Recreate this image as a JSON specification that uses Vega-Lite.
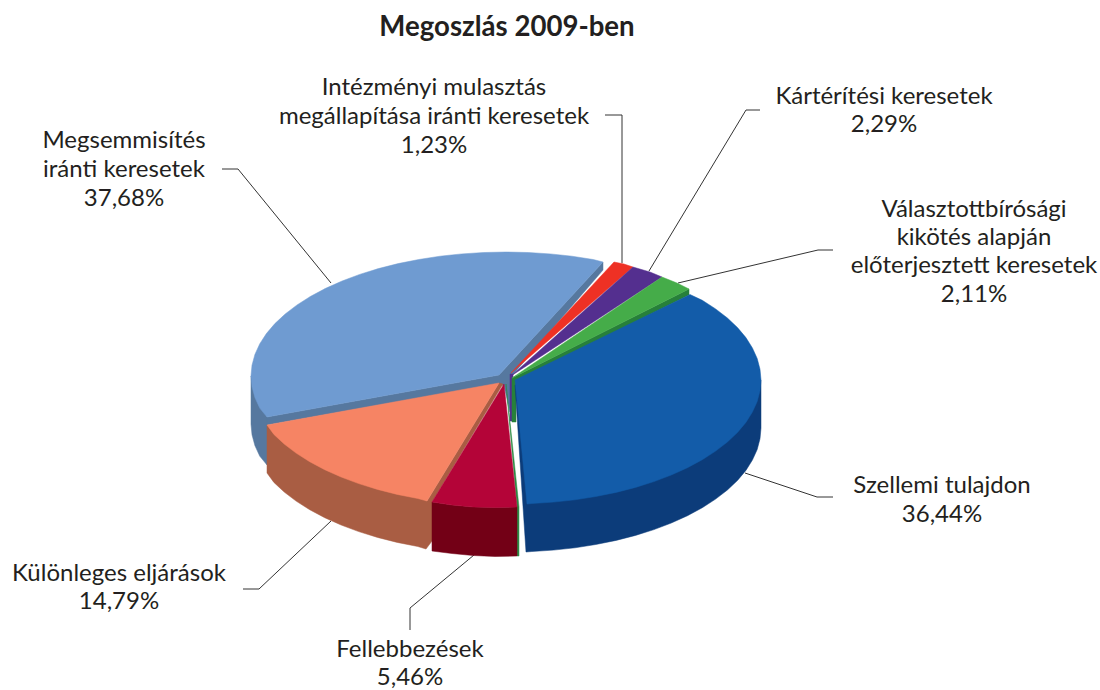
{"$schema":"https://vega.github.io/schema/vega-lite/v6.json","width":1100,"height":690,"autosize":{"type":"none"},"padding":0,"background":"white","view":{"stroke":null},
"datasets":{
"shapes":[
{"part":"a_wall","i":1,"x":251,"y":376},{"part":"a_wall","i":2,"x":267,"y":417},{"part":"a_wall","i":3,"x":267,"y":465},{"part":"a_wall","i":4,"x":259.7,"y":456.1},{"part":"a_wall","i":5,"x":254.9,"y":445.5},{"part":"a_wall","i":6,"x":252,"y":434.8},{"part":"a_wall","i":7,"x":251,"y":424},
{"part":"a_cut","i":1,"x":603,"y":262},{"part":"a_cut","i":2,"x":603,"y":270},{"part":"a_cut","i":3,"x":510,"y":378},{"part":"a_cut","i":4,"x":510,"y":412},{"part":"a_cut","i":5,"x":504,"y":386},{"part":"a_cut","i":6,"x":499,"y":384},{"part":"a_cut","i":7,"x":267,"y":425},{"part":"a_cut","i":8,"x":267,"y":417},{"part":"a_cut","i":9,"x":499,"y":375},
{"part":"c_strip","i":1,"x":510,"y":374},{"part":"c_strip","i":2,"x":513,"y":374},{"part":"c_strip","i":3,"x":513,"y":421},{"part":"c_strip","i":4,"x":510,"y":421},
{"part":"d_wall","i":1,"x":512,"y":378},{"part":"d_wall","i":2,"x":689,"y":289},{"part":"d_wall","i":3,"x":689,"y":295},{"part":"d_wall","i":4,"x":516,"y":382},{"part":"d_wall","i":5,"x":516,"y":422},{"part":"d_wall","i":6,"x":512,"y":422},
{"part":"a_top","i":1,"x":499,"y":375},{"part":"a_top","i":2,"x":267,"y":417},{"part":"a_top","i":3,"x":259.7,"y":408.1},{"part":"a_top","i":4,"x":254.9,"y":397.5},{"part":"a_top","i":5,"x":252,"y":386.8},{"part":"a_top","i":6,"x":251,"y":376},{"part":"a_top","i":7,"x":252,"y":365.2},{"part":"a_top","i":8,"x":254.9,"y":354.5},{"part":"a_top","i":9,"x":259.7,"y":343.9},{"part":"a_top","i":10,"x":266.4,"y":333.6},{"part":"a_top","i":11,"x":274.9,"y":323.6},{"part":"a_top","i":12,"x":285.2,"y":314},{"part":"a_top","i":13,"x":297.1,"y":304.9},{"part":"a_top","i":14,"x":310.7,"y":296.3},{"part":"a_top","i":15,"x":325.7,"y":288.3},{"part":"a_top","i":16,"x":342.1,"y":281},{"part":"a_top","i":17,"x":359.7,"y":274.4},{"part":"a_top","i":18,"x":378.5,"y":268.6},{"part":"a_top","i":19,"x":398.2,"y":263.6},{"part":"a_top","i":20,"x":418.8,"y":259.5},{"part":"a_top","i":21,"x":440,"y":256.2},{"part":"a_top","i":22,"x":461.7,"y":253.9},{"part":"a_top","i":23,"x":483.8,"y":252.5},{"part":"a_top","i":24,"x":506,"y":252},{"part":"a_top","i":25,"x":528.2,"y":252.5},{"part":"a_top","i":26,"x":550.3,"y":253.9},{"part":"a_top","i":27,"x":572,"y":256.2},{"part":"a_top","i":28,"x":593.2,"y":259.5},{"part":"a_top","i":29,"x":603,"y":262},
{"part":"b_top","i":1,"x":511,"y":373},{"part":"b_top","i":2,"x":614,"y":262},{"part":"b_top","i":3,"x":624,"y":264},{"part":"b_top","i":4,"x":633,"y":267},
{"part":"c_top","i":1,"x":511,"y":376},{"part":"c_top","i":2,"x":633,"y":267},{"part":"c_top","i":3,"x":650,"y":272},{"part":"c_top","i":4,"x":662,"y":277},
{"part":"d_top","i":1,"x":512,"y":378},{"part":"d_top","i":2,"x":662,"y":277},{"part":"d_top","i":3,"x":677,"y":283},{"part":"d_top","i":4,"x":689,"y":289},
{"part":"e_wall","i":1,"x":267,"y":425},{"part":"e_wall","i":2,"x":427,"y":501},{"part":"e_wall","i":3,"x":499,"y":383},{"part":"e_wall","i":4,"x":503,"y":384},{"part":"e_wall","i":5,"x":432,"y":502},{"part":"e_wall","i":6,"x":432,"y":541},{"part":"e_wall","i":7,"x":426,"y":549},{"part":"e_wall","i":8,"x":417.8,"y":546.5},{"part":"e_wall","i":9,"x":397.2,"y":542.4},{"part":"e_wall","i":10,"x":377.5,"y":537.4},{"part":"e_wall","i":11,"x":358.7,"y":531.6},{"part":"e_wall","i":12,"x":341.1,"y":525},{"part":"e_wall","i":13,"x":324.7,"y":517.7},{"part":"e_wall","i":14,"x":309.7,"y":509.7},{"part":"e_wall","i":15,"x":296.1,"y":501.1},{"part":"e_wall","i":16,"x":284.2,"y":492},{"part":"e_wall","i":17,"x":273.9,"y":482.4},{"part":"e_wall","i":18,"x":267,"y":473},
{"part":"e_top","i":1,"x":499,"y":383},{"part":"e_top","i":2,"x":267,"y":425},{"part":"e_top","i":3,"x":273.9,"y":434.4},{"part":"e_top","i":4,"x":284.2,"y":444},{"part":"e_top","i":5,"x":296.1,"y":453.1},{"part":"e_top","i":6,"x":309.7,"y":461.7},{"part":"e_top","i":7,"x":324.7,"y":469.7},{"part":"e_top","i":8,"x":341.1,"y":477},{"part":"e_top","i":9,"x":358.7,"y":483.6},{"part":"e_top","i":10,"x":377.5,"y":489.4},{"part":"e_top","i":11,"x":397.2,"y":494.4},{"part":"e_top","i":12,"x":417.8,"y":498.5},{"part":"e_top","i":13,"x":427,"y":501},
{"part":"f_edge","i":1,"x":506,"y":384},{"part":"f_edge","i":2,"x":519,"y":507},{"part":"f_edge","i":3,"x":519,"y":556},{"part":"f_edge","i":4,"x":517,"y":556},{"part":"f_edge","i":5,"x":517,"y":507},
{"part":"f_wall","i":1,"x":432,"y":502},{"part":"f_wall","i":2,"x":452,"y":505},{"part":"f_wall","i":3,"x":473,"y":507},{"part":"f_wall","i":4,"x":495,"y":507.5},{"part":"f_wall","i":5,"x":517,"y":507},{"part":"f_wall","i":6,"x":517,"y":556},{"part":"f_wall","i":7,"x":495,"y":556.5},{"part":"f_wall","i":8,"x":473,"y":555.5},{"part":"f_wall","i":9,"x":452,"y":553.5},{"part":"f_wall","i":10,"x":432,"y":551},
{"part":"f_top","i":1,"x":504,"y":384},{"part":"f_top","i":2,"x":517,"y":507},{"part":"f_top","i":3,"x":495,"y":507.5},{"part":"f_top","i":4,"x":473,"y":507},{"part":"f_top","i":5,"x":452,"y":505},{"part":"f_top","i":6,"x":432,"y":502},
{"part":"g_wall","i":1,"x":515,"y":385},{"part":"g_wall","i":2,"x":526,"y":552},{"part":"g_wall","i":3,"x":531.9,"y":551.5},{"part":"g_wall","i":4,"x":553.6,"y":550.1},{"part":"g_wall","i":5,"x":575,"y":547.8},{"part":"g_wall","i":6,"x":595.8,"y":544.5},{"part":"g_wall","i":7,"x":616.1,"y":540.4},{"part":"g_wall","i":8,"x":635.5,"y":535.4},{"part":"g_wall","i":9,"x":654,"y":529.6},{"part":"g_wall","i":10,"x":671.3,"y":523},{"part":"g_wall","i":11,"x":687.5,"y":515.7},{"part":"g_wall","i":12,"x":702.3,"y":507.7},{"part":"g_wall","i":13,"x":715.6,"y":499.1},{"part":"g_wall","i":14,"x":727.4,"y":490},{"part":"g_wall","i":15,"x":737.5,"y":480.4},{"part":"g_wall","i":16,"x":745.9,"y":470.4},{"part":"g_wall","i":17,"x":752.4,"y":460.1},{"part":"g_wall","i":18,"x":757.2,"y":449.5},{"part":"g_wall","i":19,"x":760,"y":438.8},{"part":"g_wall","i":20,"x":761,"y":428},{"part":"g_wall","i":21,"x":761,"y":380},
{"part":"g_top","i":1,"x":515,"y":380},{"part":"g_top","i":2,"x":690,"y":294.5},{"part":"g_top","i":3,"x":702.3,"y":300.3},{"part":"g_top","i":4,"x":715.6,"y":308.9},{"part":"g_top","i":5,"x":727.4,"y":318},{"part":"g_top","i":6,"x":737.5,"y":327.6},{"part":"g_top","i":7,"x":745.9,"y":337.6},{"part":"g_top","i":8,"x":752.4,"y":347.9},{"part":"g_top","i":9,"x":757.2,"y":358.5},{"part":"g_top","i":10,"x":760,"y":369.2},{"part":"g_top","i":11,"x":761,"y":380},{"part":"g_top","i":12,"x":760,"y":390.8},{"part":"g_top","i":13,"x":757.2,"y":401.5},{"part":"g_top","i":14,"x":752.4,"y":412.1},{"part":"g_top","i":15,"x":745.9,"y":422.4},{"part":"g_top","i":16,"x":737.5,"y":432.4},{"part":"g_top","i":17,"x":727.4,"y":442},{"part":"g_top","i":18,"x":715.6,"y":451.1},{"part":"g_top","i":19,"x":702.3,"y":459.7},{"part":"g_top","i":20,"x":687.5,"y":467.7},{"part":"g_top","i":21,"x":671.3,"y":475},{"part":"g_top","i":22,"x":654,"y":481.6},{"part":"g_top","i":23,"x":635.5,"y":487.4},{"part":"g_top","i":24,"x":616.1,"y":492.4},{"part":"g_top","i":25,"x":595.8,"y":496.5},{"part":"g_top","i":26,"x":575,"y":499.8},{"part":"g_top","i":27,"x":553.6,"y":502.1},{"part":"g_top","i":28,"x":531.9,"y":503.5},{"part":"g_top","i":29,"x":527,"y":504}
],
"leaders":[
{"id":"Megsemmisítés","i":1,"x":222,"y":169},{"id":"Megsemmisítés","i":2,"x":238,"y":169},{"id":"Megsemmisítés","i":3,"x":331,"y":283},
{"id":"Intézményi","i":1,"x":605,"y":115},{"id":"Intézményi","i":2,"x":622,"y":115},{"id":"Intézményi","i":3,"x":622,"y":263},
{"id":"Kártérítési","i":1,"x":760,"y":110},{"id":"Kártérítési","i":2,"x":746,"y":110},{"id":"Kártérítési","i":3,"x":649,"y":271},
{"id":"Választott","i":1,"x":833,"y":250},{"id":"Választott","i":2,"x":818,"y":250},{"id":"Választott","i":3,"x":678,"y":283},
{"id":"Szellemi","i":1,"x":745,"y":473},{"id":"Szellemi","i":2,"x":817,"y":497},{"id":"Szellemi","i":3,"x":833,"y":497},
{"id":"Különleges","i":1,"x":331,"y":521},{"id":"Különleges","i":2,"x":259,"y":589},{"id":"Különleges","i":3,"x":243,"y":589},
{"id":"Fellebbezések","i":1,"x":474,"y":555},{"id":"Fellebbezések","i":2,"x":410,"y":608},{"id":"Fellebbezések","i":3,"x":410,"y":630}
],
"labels":[
{"t":"Intézményi mulasztás","x":434,"y":87},{"t":"megállapítása iránti keresetek","x":434,"y":116},{"t":"1,23%","x":434,"y":145},
{"t":"Megsemmisítés","x":124,"y":140},{"t":"iránti keresetek","x":124,"y":169},{"t":"37,68%","x":124,"y":198},
{"t":"Kártérítési keresetek","x":884,"y":96},{"t":"2,29%","x":884,"y":124},
{"t":"Választottbírósági","x":974,"y":209},{"t":"kikötés alapján","x":974,"y":237},{"t":"előterjesztett keresetek","x":974,"y":265},{"t":"2,11%","x":974,"y":294},
{"t":"Szellemi tulajdon","x":942,"y":485},{"t":"36,44%","x":942,"y":514},
{"t":"Különleges eljárások","x":119,"y":573},{"t":"14,79%","x":119,"y":601},
{"t":"Fellebbezések","x":410,"y":649},{"t":"5,46%","x":410,"y":677}
],
"head":[{"t":"Megoszlás 2009-ben","x":507,"y":28}]
},
"encoding":{
"x":{"field":"x","type":"quantitative","axis":null,"scale":{"domain":[0,1100],"nice":false,"zero":false}},
"y":{"field":"y","type":"quantitative","axis":null,"scale":{"domain":[690,0],"nice":false,"zero":false}}
},
"layer":[
{"data":{"name":"leaders"},"mark":{"type":"line","color":"#333333","strokeWidth":1},"encoding":{"detail":{"field":"id"},"order":{"field":"i","type":"quantitative"}}},
{"data":{"name":"shapes"},"mark":{"type":"line","interpolate":"linear-closed","filled":true,"strokeWidth":0.5},
"encoding":{"order":{"field":"i","type":"quantitative"},
"fill":{"field":"part","type":"nominal","legend":null,"sort":null,"scale":{"domain":["a_wall","a_cut","c_strip","d_wall","a_top","b_top","c_top","d_top","e_wall","e_top","f_edge","f_wall","f_top","g_wall","g_top"],"range":["#56789F","#56789F","#542F8F","#27803A","#6F9BD1","#EE3124","#542F8F","#45AC49","#A95D43","#F68464","#2E8B45","#730016","#B40438","#0C3C7A","#135CA9"]}},
"stroke":{"field":"part","type":"nominal","legend":null,"sort":null,"scale":{"domain":["a_wall","a_cut","c_strip","d_wall","a_top","b_top","c_top","d_top","e_wall","e_top","f_edge","f_wall","f_top","g_wall","g_top"],"range":["#56789F","#56789F","#542F8F","#27803A","#6F9BD1","#EE3124","#542F8F","#45AC49","#A95D43","#F68464","#2E8B45","#730016","#B40438","#0C3C7A","#135CA9"]}}}},
{"data":{"name":"labels"},"mark":{"type":"text","font":"Lato","fontSize":24,"dy":1,"color":"#231F20","align":"center","baseline":"middle"},"encoding":{"text":{"field":"t"}}},
{"data":{"name":"head"},"mark":{"type":"text","font":"Lato","fontSize":27.6,"fontWeight":"bold","color":"#231F20","align":"center","baseline":"middle"},"encoding":{"text":{"field":"t"}}}
]}
